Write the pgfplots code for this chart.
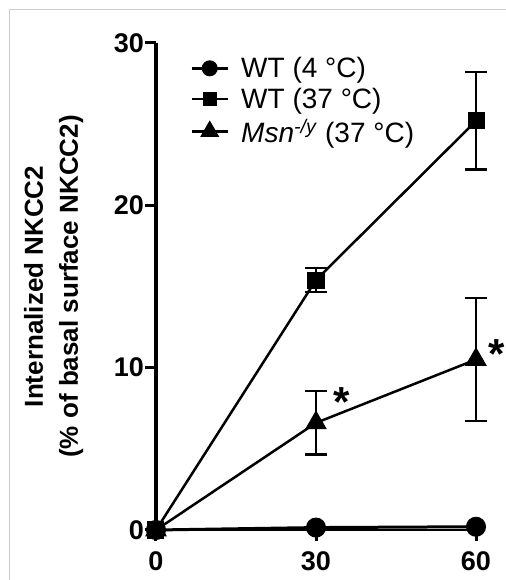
\documentclass[border=0pt]{standalone}
\usepackage{fontspec}
\setmainfont{Liberation Sans}
\usepackage{pgfplots}
\pgfplotsset{compat=1.18}

\begin{document}
\begin{tikzpicture}
\begin{axis}[
  name=ax,
  scale only axis, width=320pt, height=487pt,
  xmin=0, xmax=60, ymin=0, ymax=30,
  axis lines=left,
  x axis line style={-, line width=2.5pt},
  y axis line style={-, line width=3.5pt},
  clip=false,
  xtick={0,30,60}, ytick={0,10,20,30},
  tick align=outside, major tick length=11pt,
  tick style={line width=3pt, black},
  /pgf/number format/assume math mode=true,
  ticklabel style={font=\fontsize{27}{32}\selectfont\bfseries, inner sep=1pt},
  xticklabel style={yshift=-9pt},
  ylabel={Internalized NKCC2\\(\% of basal surface NKCC2)},
  ylabel style={font=\fontsize{26}{35}\selectfont\bfseries, align=center,
                at={(axis description cs:-0.32,0.5)}, anchor=center},
  legend style={at={(axis description cs:0.097,0.979)}, anchor=north west,
                draw=none, fill=none, font=\fontsize{28}{32}\selectfont,
                nodes={inner sep=2pt}, column sep=10pt, row sep=5pt},
  legend cell align=left,
  legend image code/.code={\draw[mark repeat=2, mark phase=2, #1]
      plot coordinates {(0pt,0pt) (18pt,0pt) (36pt,0pt)};},
]
\addplot[line width=3pt, mark=*, mark size=9.5pt, mark options={line width=1pt},
  legend image post style={mark size=7.5pt}]
  coordinates {(0,0) (30,0.15) (60,0.2)};
\addlegendentry{WT (4 °C)}

\addplot[line width=2.5pt, mark=square*, mark size=8pt, mark options={line width=1pt},
  legend image post style={mark size=6.5pt},
  error bars/.cd, y dir=both, y explicit,
  error bar style={line width=2.5pt},
  error mark options={rotate=90, mark size=11pt, line width=2.5pt}]
  coordinates {(0,0) (30,15.4) +- (0,0.75) (60,25.2) +- (0,3.0)};
\addlegendentry{WT (37 °C)}

\addplot[line width=2.5pt, mark=triangle*, mark size=11.5pt, mark options={line width=1pt},
  legend image post style={mark size=10pt},
  error bars/.cd, y dir=both, y explicit,
  error bar style={line width=2.5pt},
  error mark options={rotate=90, mark size=11pt, line width=2.5pt}]
  coordinates {(0,0) (30,6.6) +- (0,1.95) (60,10.5) +- (0,3.8)};
\addlegendentry{\textit{Msn}\textsuperscript{\textit{-/y}} (37 °C)}

\node[anchor=base, font=\fontsize{42}{48}\selectfont\bfseries, yshift=-24pt]
  at (axis cs:34.9,8.5) {*};
\node[anchor=base, font=\fontsize{42}{48}\selectfont\bfseries, yshift=-22pt]
  at (axis cs:63.9,11.3) {*};
\end{axis}
\draw[gray!40, line width=1pt]
  ([xshift=-146pt,yshift=-50pt]ax.south west) --
  ([xshift=-146pt,yshift=33pt]ax.north west) --
  ([xshift=30pt,yshift=33pt]ax.north east);
\pgfresetboundingbox
\useasboundingbox ([xshift=-156pt,yshift=-50pt]ax.south west)
  rectangle ([xshift=30pt,yshift=43pt]ax.north east);
\end{tikzpicture}
\end{document}
